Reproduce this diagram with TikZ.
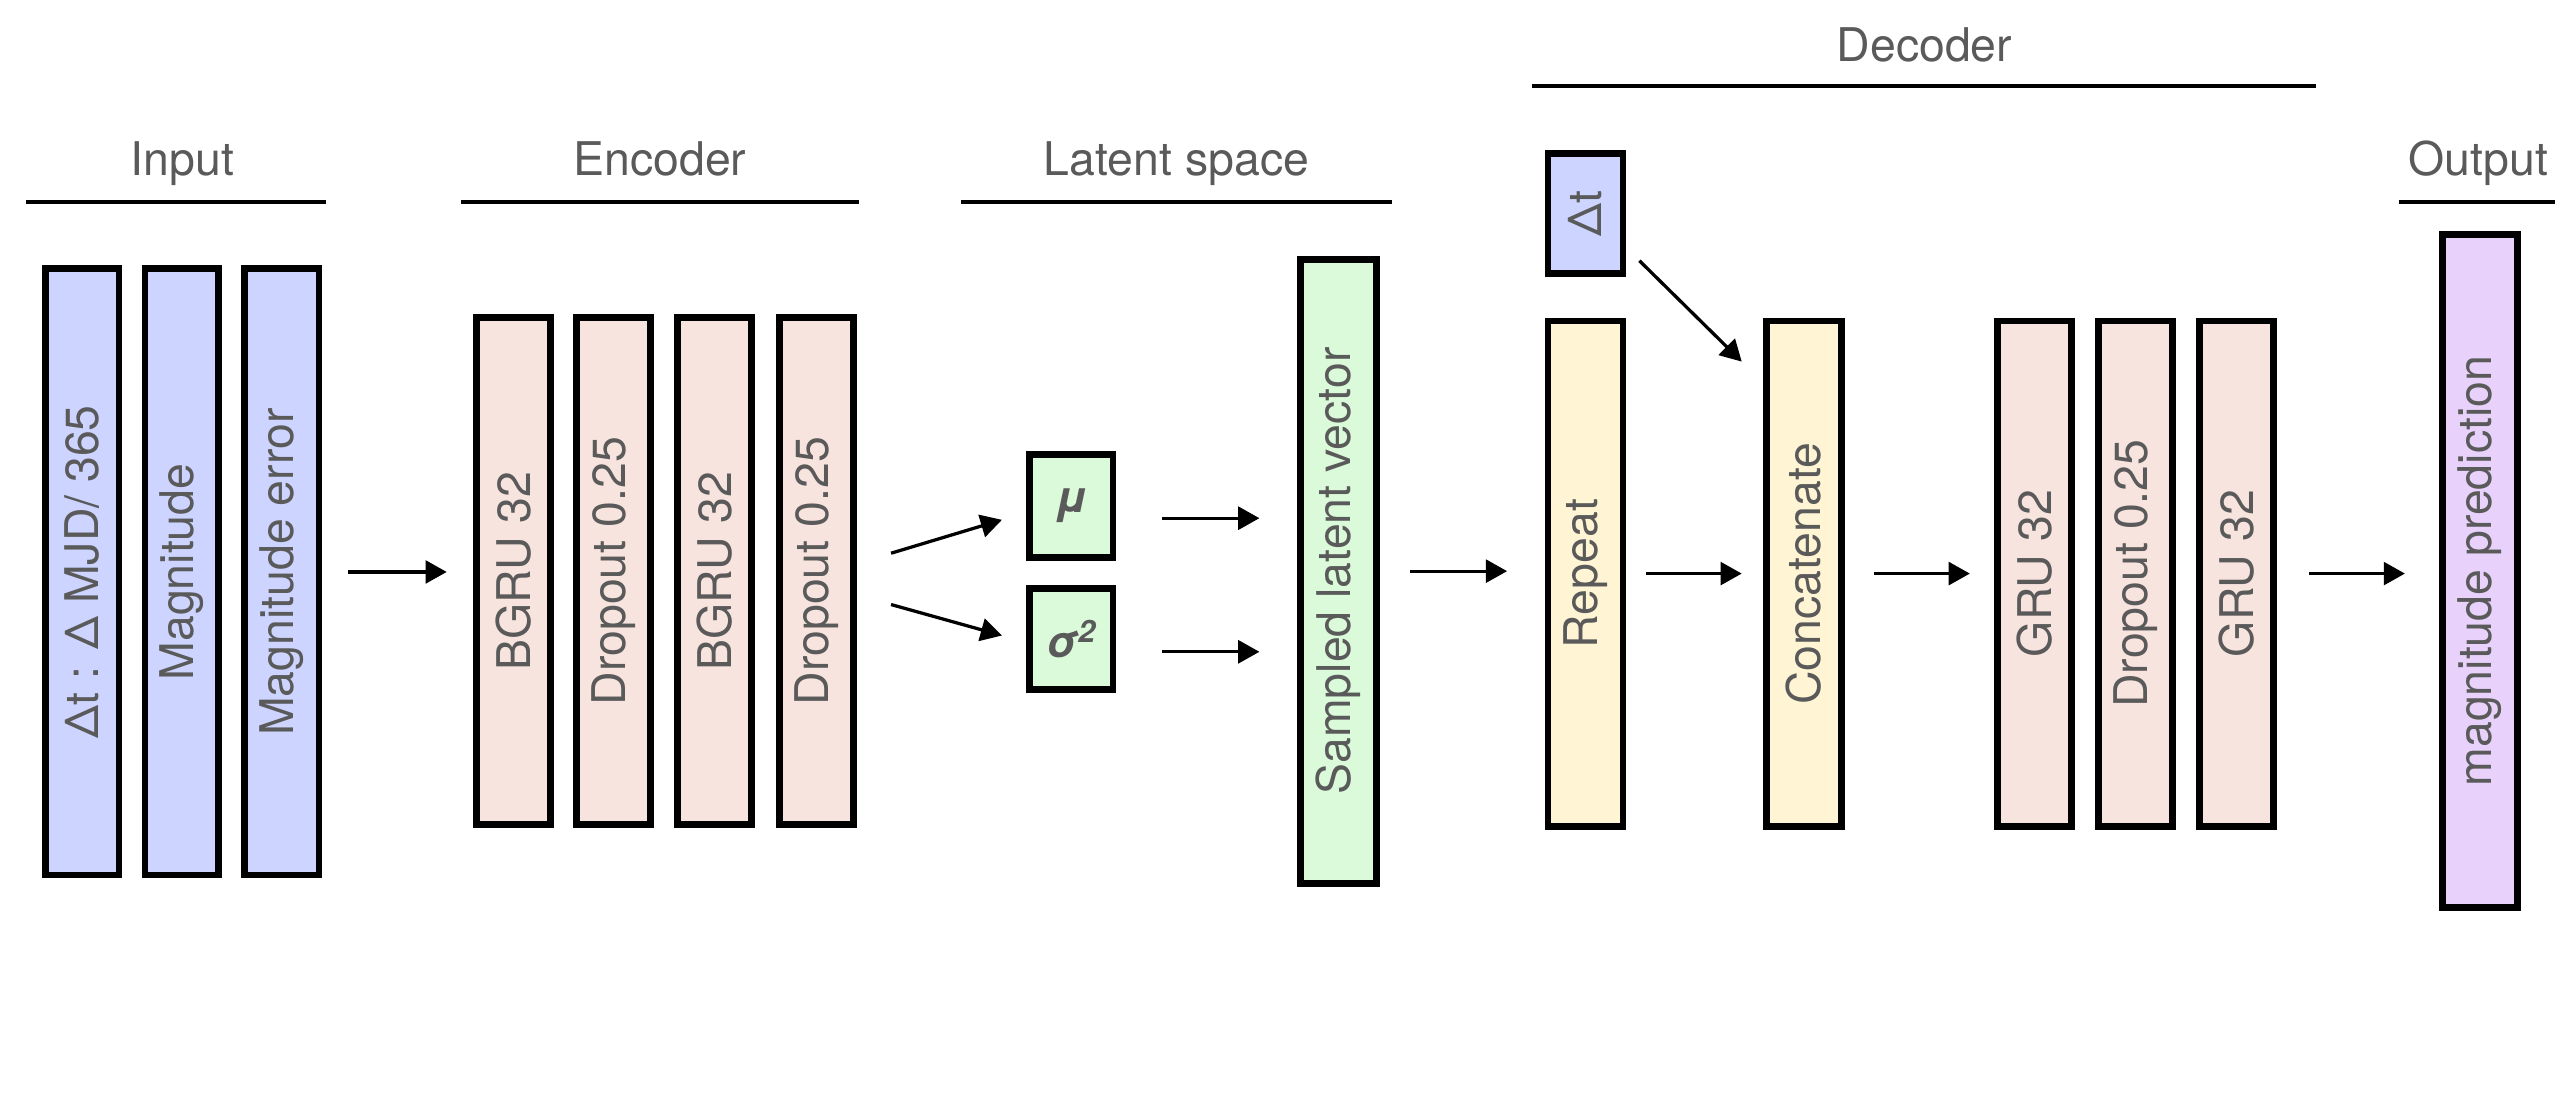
\documentclass[tikz,border=0pt]{standalone}
\usepackage{fontspec}
\setmainfont{TeX Gyre Heros}
\usepackage{graphicx}
\usetikzlibrary{arrows.meta,calc}
\definecolor{inblue}{HTML}{CCD4FF}
\definecolor{encpink}{HTML}{F8E4DE}
\definecolor{latgreen}{HTML}{DAFADA}
\definecolor{decyellow}{HTML}{FFF4D4}
\definecolor{outpurple}{HTML}{E8D2FC}
\definecolor{txtgray}{HTML}{5A5A5A}
\newcommand\lblfont{\fontsize{28.5}{34}\selectfont}
\newcommand\ttlfont{\fontsize{28.5}{34}\selectfont}
\newcommand\vtext[1]{\rotatebox{90}{#1}}
\begin{document}
\begin{tikzpicture}[x=1pt,y=-1pt,
  box/.style={draw=black, line width=4.2pt, inner sep=0pt, font=\lblfont, text=txtgray},
  arr/.style={line width=2pt, -{Triangle[length=13pt,width=14pt]}},
  ttl/.style={font=\ttlfont, text=txtgray, anchor=base, inner sep=0pt},
  rulel/.style={line width=2.6pt}]
\useasboundingbox (0,0) rectangle (1568,681);

% titles
\node[ttl] (tin) at (112,107.5) {Input};
\node[ttl] (tenc) at (405,107.5) {Encoder};
\node[ttl] (tlat) at (722,107.5) {Latent space};
\node[ttl] (tdec) at (1181,37.5) {Decoder};
\node[ttl] (tout) at (1521,107.5) {Output};
\draw[rulel] (16,124) -- (200,124);
\draw[rulel] (283,124) -- (527,124);
\draw[rulel] (590,124) -- (854,124);
\draw[rulel] (940,53) -- (1421,53);
\draw[rulel] (1472,124) -- (1568,124);

% input
\node[box, fill=inblue, minimum width=45pt, minimum height=372pt] (in1) at (50.5,351) {\vtext{Δt : Δ MJD/ 365}};
\node[box, fill=inblue, minimum width=45pt, minimum height=372pt] (in2) at (111.5,351) {\vtext{Magnitude}};
\node[box, fill=inblue, minimum width=45.5pt, minimum height=372pt] (in3) at (173,351) {\vtext{Magnitude error}};

% encoder
\node[box, fill=encpink, minimum width=45.5pt, minimum height=311pt] (e1) at (315,350.5) {\vtext{BGRU 32}};
\node[box, fill=encpink, minimum width=45pt, minimum height=311pt] (e2) at (376.5,350.5) {\vtext{Dropout 0.25}};
\node[box, fill=encpink, minimum width=45pt, minimum height=311pt] (e3) at (438.5,350.5) {\vtext{BGRU 32}};
\node[box, fill=encpink, minimum width=45.5pt, minimum height=311pt] (e4) at (501,350.5) {\vtext{Dropout 0.25}};

% latent
\node[box, fill=latgreen, minimum width=51pt, minimum height=63pt] (mu) at (657.5,310.5) {\fontsize{27}{30}\selectfont\bfseries\itshape μ};
\node[box, fill=latgreen, minimum width=51pt, minimum height=62pt] (sig) at (657.5,392) {\fontsize{27}{30}\selectfont\bfseries\itshape σ\textsuperscript{2}};
\node[box, fill=latgreen, minimum width=47pt, minimum height=383pt] (smp) at (821.5,350.5) {\vtext{Sampled latent vector}};

% decoder
\node[box, fill=inblue, minimum width=46pt, minimum height=74pt] (dt) at (973,131) {\vtext{Δt}};
\node[box, fill=decyellow, minimum width=46pt, minimum height=310pt] (rep) at (973,352) {\vtext{Repeat}};
\node[box, fill=decyellow, minimum width=46pt, minimum height=310pt] (cat) at (1107,352) {\vtext{Concatenate}};
\node[box, fill=encpink, minimum width=45pt, minimum height=310pt] (g1) at (1248.5,352) {\vtext{GRU 32}};
\node[box, fill=encpink, minimum width=45pt, minimum height=310pt] (g2) at (1310.5,352) {\vtext{Dropout 0.25}};
\node[box, fill=encpink, minimum width=45pt, minimum height=310pt] (g3) at (1372.5,352) {\vtext{GRU 32}};

% output
\node[box, fill=outpurple, minimum width=46pt, minimum height=413pt] (out) at (1522,350.5) {\vtext{magnitude prediction}};

% arrows
\draw[arr, shorten <=16pt, shorten >=16pt] (in3.east) -- (in3.east -| e1.west);
\draw[arr] ($(e4.east)+(21,-11)$) -- ($(mu.west)+(-15,8.5)$);
\draw[arr] ($(e4.east)+(21,20.5)$) -- ($(sig.west)+(-15,-2)$);
\draw[arr, shorten <=28pt, shorten >=23pt] ($(mu.east)+(0,7.5)$) -- ($(mu.east -| smp.west)+(0,7.5)$);
\draw[arr, shorten <=28pt, shorten >=23pt] ($(sig.east)+(0,8)$) -- ($(sig.east -| smp.west)+(0,8)$);
\draw[arr, shorten <=18pt, shorten >=23pt] (smp.east) -- (smp.east -| rep.west);
\draw[arr, shorten <=12pt, shorten >=13pt] (rep.east) -- (rep.east -| cat.west);
\draw[arr] ($(dt.east)+(8,29)$) -- ($(cat.north west)+(-13,27)$);
\draw[arr, shorten <=18pt, shorten >=15pt] (cat.east) -- (cat.east -| g1.west);
\draw[arr, shorten <=20pt, shorten >=21pt] (g3.east) -- (g3.east -| out.west);
\end{tikzpicture}
\end{document}
